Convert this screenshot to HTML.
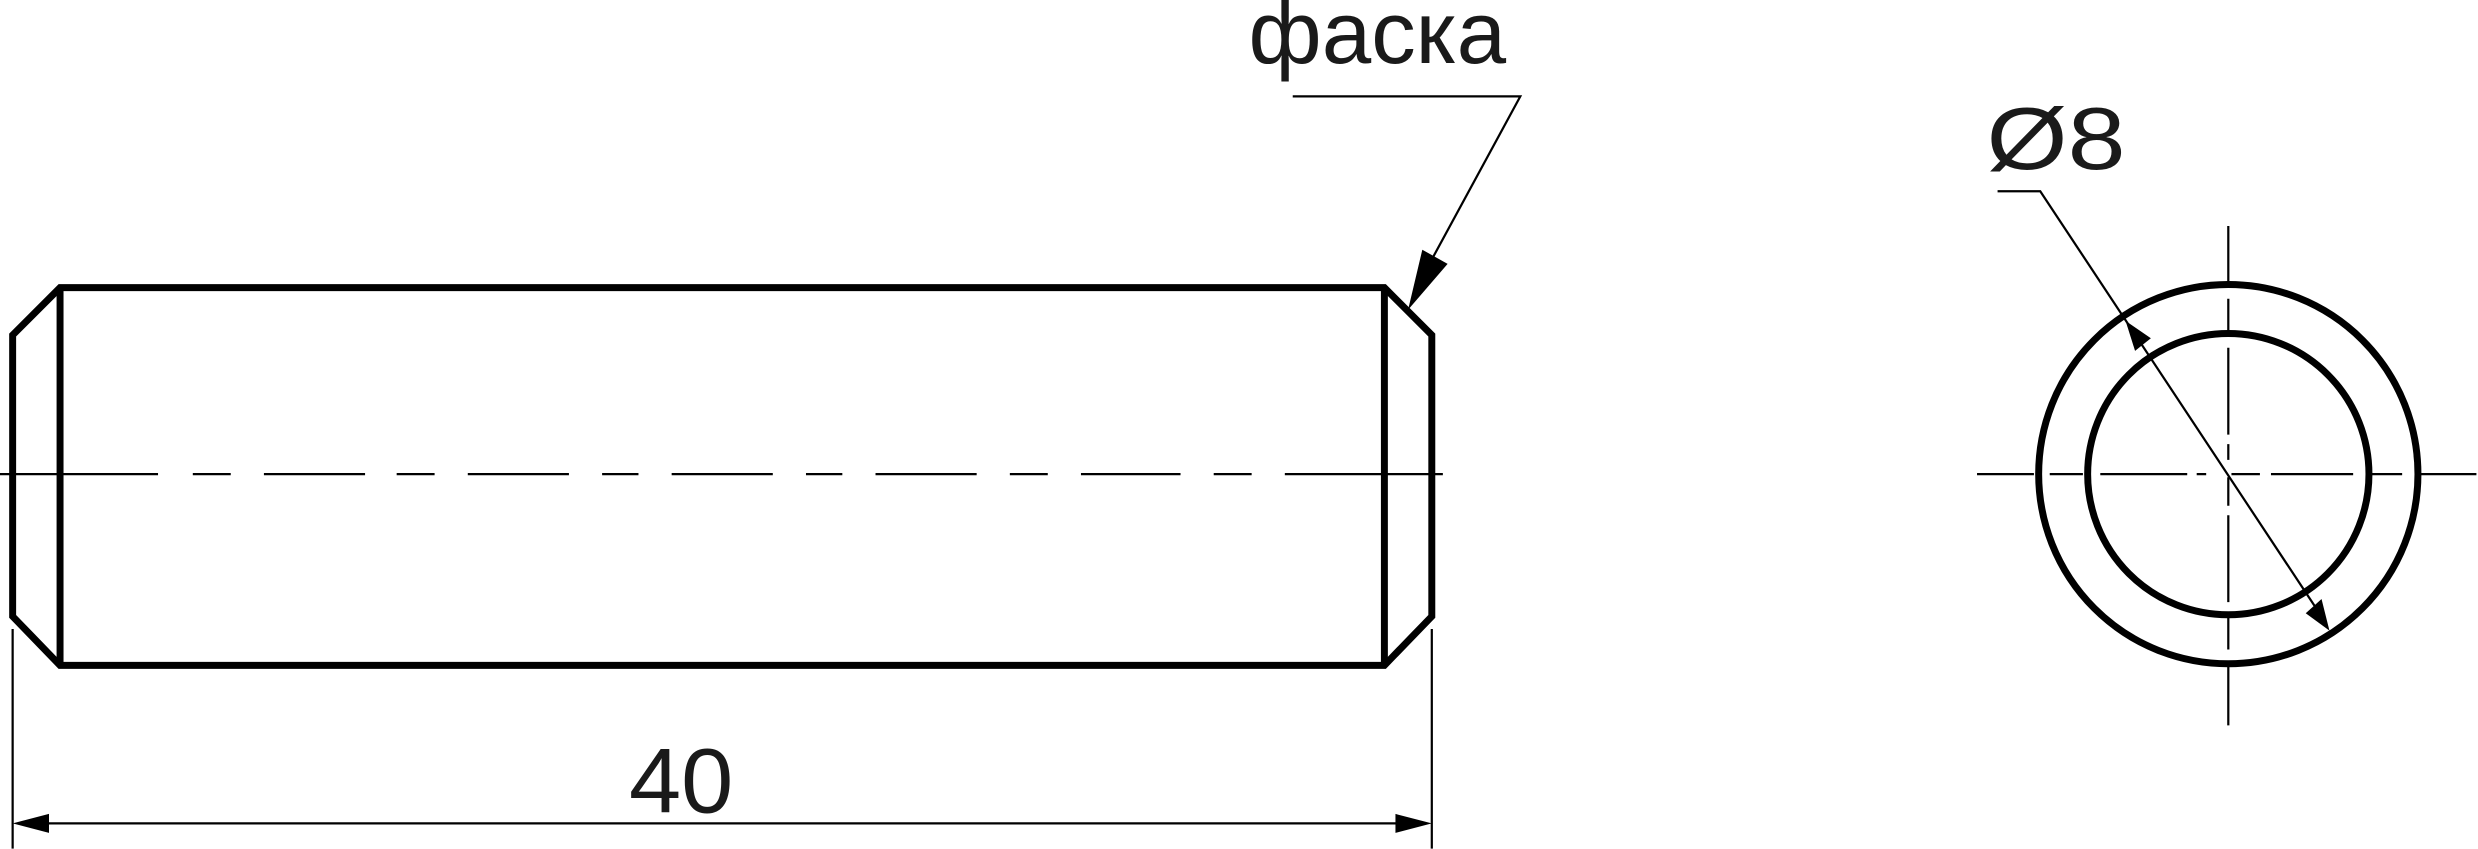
<!DOCTYPE html>
<html><head><meta charset="utf-8"><style>html,body{margin:0;padding:0;background:#fff;overflow:hidden}svg{display:block}</style></head>
<body>
<svg width="2478" height="849" viewBox="0 0 1568 537.2" preserveAspectRatio="none" xmlns="http://www.w3.org/2000/svg">
<g fill="none" stroke="#000" stroke-width="4.4" stroke-linejoin="miter">
<path d="M38,182 L876,182 L906,212 L906,390 L876,421 L38,421 L8,390 L8,212 Z"/>
<line x1="38" y1="182" x2="38" y2="421"/>
<line x1="876" y1="182" x2="876" y2="421"/>
<circle cx="1410" cy="300" r="120"/>
<circle cx="1410" cy="300" r="89"/>
</g>
<g stroke="#000" stroke-width="1.4" fill="none">
<path d="M0,300H100M122,300H146M167,300H231M251,300H275M296,300H360M381,300H404M425,300H489M510,300H533M554,300H618M639,300H663M684,300H747M768,300H792M813,300H913"/>
<path d="M1251,300H1287M1297,300H1318M1329,300H1384M1390,300H1396M1412,300H1430M1437,300H1489M1499,300H1520M1529,300H1567"/>
<path d="M1410,143V179M1410,189V209M1410,220V275M1410,281V291M1410,302V320M1410,326V381M1410,391V411M1410,421V459"/>
<line x1="8" y1="398" x2="8" y2="537"/>
<line x1="906" y1="398" x2="906" y2="537"/>
<line x1="30" y1="521" x2="884" y2="521"/>
<polyline points="818,61 962,61 905,166"/>
<polyline points="1264,121 1291,121 1467,387"/>
</g>
<g fill="#000">
<polygon points="8,521 31,515 31,527"/>
<polygon points="906,521 883,515 883,527"/>
<polygon points="891,196 900,158 916,167"/>
<polygon points="1345,203 1361,214 1351,222"/>
<polygon points="1474,399 1459,388 1469,379"/>
</g>
<g font-family="'Liberation Sans','DejaVu Sans',sans-serif" fill="#1a1a1a">
<text x="790" y="40" font-size="56" textLength="163" lengthAdjust="spacingAndGlyphs">фаска</text>
<text x="398" y="514" font-size="58" textLength="66" lengthAdjust="spacingAndGlyphs">40</text>
<text x="1257" y="107" font-size="56" textLength="88" lengthAdjust="spacingAndGlyphs">Ø8</text>
</g>
</svg>
</body></html>
